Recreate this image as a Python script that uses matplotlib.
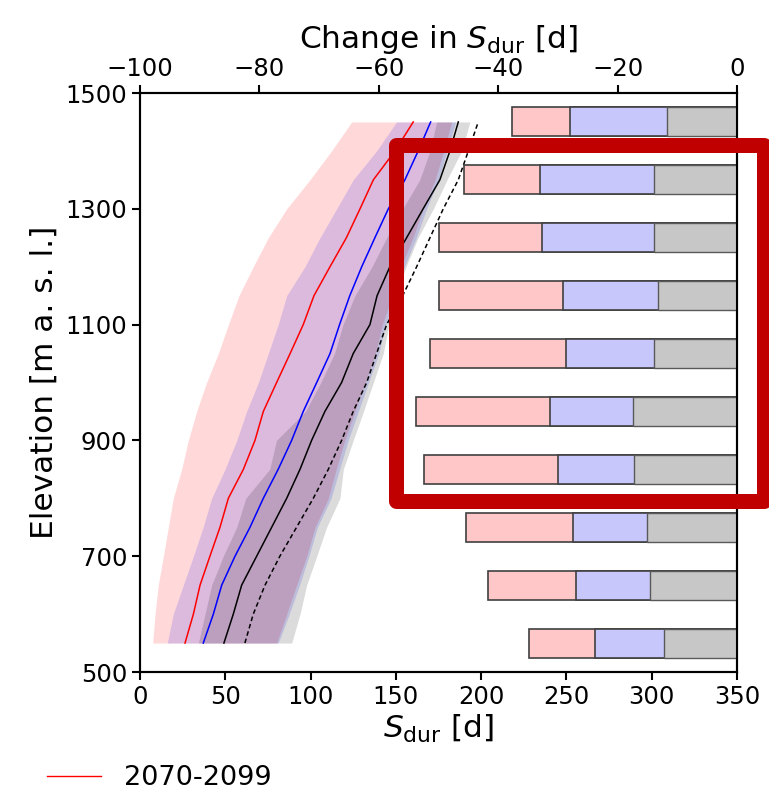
import matplotlib
matplotlib.use("Agg")
import matplotlib.pyplot as plt
from matplotlib.lines import Line2D
from matplotlib.patches import Rectangle
import numpy as np

# ---------------- data ----------------
elev = [550, 600, 650, 700, 750, 800, 850, 900, 950, 1000,
        1050, 1100, 1150, 1200, 1250, 1300, 1350, 1400, 1450]

far_med = [26.4, 31.3, 35.2, 41.0, 46.9, 51.8, 60.6, 67.4, 72.3, 80.1,
           88.0, 95.7, 102.0, 111.4, 121.0, 129.0, 136.8, 149.5, 160.2]
far_lo = [7.4, 8.8, 10.7, 13.7, 16.6, 19.5, 24.4, 28.3, 33.2, 39.0,
          45.9, 51.8, 58.0, 66.4, 75.2, 86.0, 99.6, 112.3, 124.1]
far_hi = [80.1, 86.0, 91.8, 97.7, 102.6, 110.4, 115.0, 120.0, 126.0, 132.0,
          138.0, 142.0, 148.0, 153.0, 160.0, 166.0, 173.0, 178.0, 182.7]

mid_med = [37.1, 43.0, 47.9, 55.7, 64.5, 72.3, 81.0, 88.9, 95.7, 103.6,
           111.4, 117.0, 123.0, 130.0, 137.7, 145.6, 155.3, 163.1, 170.4]
mid_lo = [16.0, 19.5, 25.4, 31.3, 37.0, 42.0, 49.8, 56.7, 62.5, 69.4,
          75.2, 81.0, 86.0, 96.7, 105.5, 115.3, 125.0, 138.7, 150.4]
mid_hi = [81.0, 87.5, 93.5, 99.0, 104.0, 112.0, 117.0, 122.0, 128.0, 134.0,
          140.0, 144.0, 150.0, 155.0, 162.0, 168.0, 175.0, 180.0, 185.0]

near_med = [49.2, 54.7, 59.6, 68.4, 77.2, 86.0, 93.8, 100.6, 108.4, 118.2,
            125.0, 134.8, 139.0, 146.5, 156.3, 166.0, 175.8, 181.7, 186.6]
near_lo = [34.2, 38.1, 42.0, 48.8, 56.7, 62.0, 76.0, 80.0, 97.0, 106.0,
           114.0, 119.0, 126.0, 136.0, 144.6, 154.0, 164.0, 170.0, 173.9]
near_hi = [88.9, 93.8, 97.7, 103.6, 109.4, 117.2, 119.2, 125.0, 131.0, 136.8,
           142.6, 146.0, 150.0, 156.0, 163.0, 172.0, 180.0, 188.6, 193.4]

ref_med = [61.5, 66.4, 73.3, 82.0, 91.8, 101.6, 110.4, 118.2, 125.0, 132.9,
           138.7, 144.6, 154.0, 162.2, 170.0, 177.8, 186.6, 192.5, 198.3]

bar_elev = [550, 650, 750, 850, 950, 1050, 1150, 1250, 1350, 1450]
chg_far = [-34.8, -41.7, -45.4, -52.4, -53.8, -51.5, -50.0, -49.9, -45.7, -37.7]
chg_mid = [-23.8, -27.0, -27.4, -30.0, -31.3, -28.7, -29.2, -32.6, -33.0, -27.9]
chg_near = [-12.2, -14.5, -15.1, -17.2, -17.5, -13.9, -13.3, -13.9, -13.9, -11.7]

legend_label = "2070-2099"

# ---------------- figure ----------------
W, H = 769, 792
fig = plt.figure(figsize=(W / 100, H / 100), dpi=100)
L, R, T, B = 140, 737, 93, 672
ax = fig.add_axes([L / W, 1 - B / H, (R - L) / W, (B - T) / H])

ax.fill_betweenx(elev, far_lo, far_hi, color="red", alpha=0.15, lw=0)
ax.fill_betweenx(elev, mid_lo, mid_hi, color="blue", alpha=0.14, lw=0)
ax.fill_betweenx(elev, near_lo, near_hi, color="black", alpha=0.14, lw=0)

ax.plot(far_med, elev, color="red", lw=1.1)
ax.plot(mid_med, elev, color="blue", lw=1.1)
ax.plot(near_med, elev, color="black", lw=1.1)
ax.plot(ref_med, elev, color="black", lw=1.1, ls="--", dashes=(3, 2))

ax.set_xlim(0, 350)
ax.set_ylim(500, 1500)
ax.set_xticks(np.arange(0, 351, 50))
ax.set_yticks(np.arange(500, 1501, 200))
ax.set_xlabel(r"$S_{\mathrm{dur}}$ [d]", fontsize=22.5, labelpad=3)
ax.set_ylabel("Elevation [m a. s. l.]", fontsize=22.5, labelpad=5)

ax2 = ax.twiny()
ax2.set_xlim(-100, 0)
ax2.set_xticks(np.arange(-100, 1, 20))
ax2.set_xlabel(r"Change in $S_{\mathrm{dur}}$ [d]", fontsize=22.5, labelpad=6)

bh = 50
ax2.barh(bar_elev, chg_far, height=bh, color="#ffc7c7", edgecolor="0.25", lw=1.2)
ax2.barh(bar_elev, chg_mid, height=bh, color="#c7c7fb", edgecolor="0.25", lw=1.2)
ax2.barh(bar_elev, chg_near, height=bh, color="#c7c7c7", edgecolor="0.35", lw=1.0)
ax2.set_ylim(500, 1500)

for a in (ax, ax2):
    a.tick_params(labelsize=17.5, width=1.5, length=6, direction="out", pad=3)
    for s in a.spines.values():
        s.set_linewidth(1.5)

# highlight box
lw_px = 15
rect = Rectangle((395.5 / W, 1 - 500.5 / H), (764 - 395.5) / W, (500.5 - 145.5) / H,
                 transform=fig.transFigure, fill=False, edgecolor="#c00000",
                 lw=lw_px * 0.72, joinstyle="round", zorder=10)
fig.patches.append(rect)

handle = Line2D([], [], color="red", lw=1.0)
fig.legend([handle], [legend_label], loc="center left",
           bbox_to_anchor=(47 / W, 14 / H), frameon=False, fontsize=19.5,
           borderpad=0, borderaxespad=0, handlelength=2.0, handletextpad=0.85)

fig.savefig("out.png", dpi=100)
